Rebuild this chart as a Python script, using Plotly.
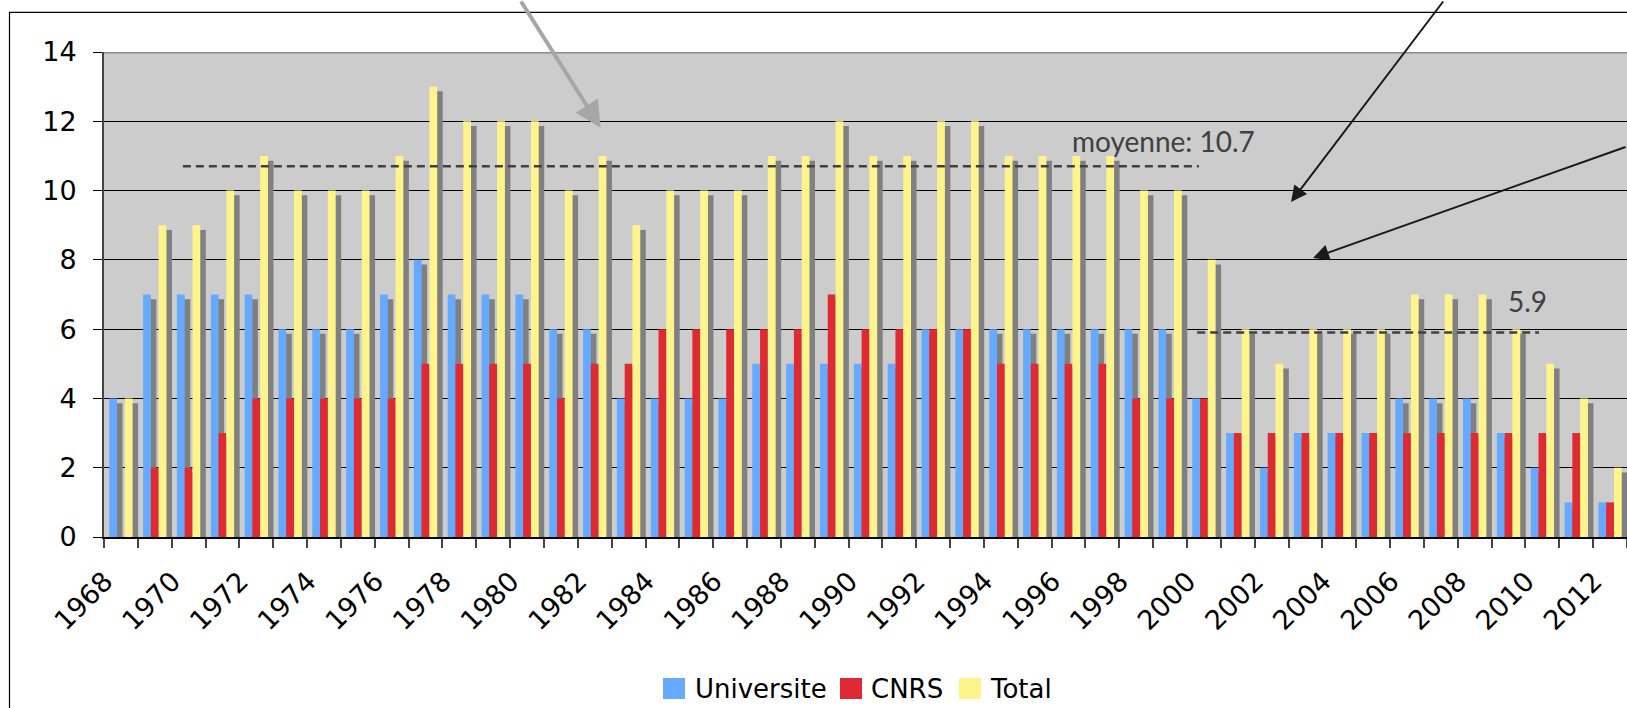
import plotly.graph_objects as go

# Recrutements par année
years = list(range(1968, 2013))
universite = [4, 7, 7, 7, 7, 6, 6, 6, 7, 8, 7, 7, 7, 6, 6, 4, 4, 4, 4, 5, 5, 5, 5, 5,
              6, 6, 6, 6, 6, 6, 6, 6, 4, 3, 2, 3, 3, 3, 4, 4, 4, 3, 2, 1, 1]
cnrs = [0, 2, 2, 3, 4, 4, 4, 4, 4, 5, 5, 5, 5, 4, 5, 5, 6, 6, 6, 6, 6, 7, 6, 6,
        6, 6, 5, 5, 5, 5, 4, 4, 4, 3, 3, 3, 3, 3, 3, 3, 3, 3, 3, 3, 1]
total = [4, 9, 9, 10, 11, 10, 10, 10, 11, 13, 12, 12, 12, 10, 11, 9, 10, 10, 10, 11, 11, 12, 11, 11,
         12, 12, 11, 11, 11, 11, 10, 10, 8, 6, 5, 6, 6, 6, 7, 7, 7, 6, 5, 4, 2]
series_names = ["Universite", "CNRS", "Total"]
colors = ["#66AAFF", "#DD2A33", "#FFF48C"]
x_labels = list(range(1968, 2013, 2))

# periods used for the two averages
period1 = (1969, 2000)
period2 = (2001, 2011)


def mean_total(a, b):
    vals = [t for y, t in zip(years, total) if a <= y <= b]
    return sum(vals) / len(vals)


mean1 = round(mean_total(*period1), 1)
mean2 = round(mean_total(*period2), 1)

# layout geometry (pixels)
W, H = 1627, 708
L, R, T, B = 104, 0, 52, 171
PW = W - L - R
PH = H - T - B


def px(x):
    return (x - L) / PW


def py(y):
    return (H - B - y) / PH


bar_w = 0.23
offsets = [-0.345, -0.115, 0.115]
shadow_dx = 0.163
shadow_dy = 0.136

fig = go.Figure()
data = [universite, cnrs, total]

# drop shadows first, then the bars themselves
for vals, off in zip(data, offsets):
    fig.add_trace(go.Bar(
        x=years, y=vals, base=[-shadow_dy] * len(vals),
        width=bar_w, offset=off + shadow_dx,
        marker=dict(color="#808080", line=dict(width=0)),
        showlegend=False, hoverinfo="skip"))
for vals, off, name, col in zip(data, offsets, series_names, colors):
    fig.add_trace(go.Bar(
        x=years, y=vals, name=name,
        width=bar_w, offset=off,
        marker=dict(color=col, line=dict(width=0)),
        showlegend=False))

shapes = []
annotations = []

# mean lines
dash = dict(color="#404040", width=2.5, dash="8px,5px")
shapes.append(dict(type="line", xref="x", yref="y", x0=1969.83, x1=1999.85,
                   y0=mean1, y1=mean1, line=dash))
shapes.append(dict(type="line", xref="x", yref="y", x0=1999.8, x1=2009.9,
                   y0=mean2, y1=mean2, line=dash))
annotations.append(dict(xref="paper", yref="paper", x=px(1070), y=py(141),
                        xanchor="left", yanchor="middle", showarrow=False,
                        text=f"moyenne: {mean1}",
                        font=dict(family="Lato", size=28, color="#404040")))
annotations.append(dict(xref="paper", yref="paper", x=px(1527), y=py(301),
                        xanchor="center", yanchor="middle", showarrow=False,
                        text=f"{mean2}",
                        font=dict(family="Lato", size=28, color="#404040")))

# top edge of the plot area
shapes.append(dict(type="line", xref="paper", yref="y", x0=0, x1=1, y0=14, y1=14,
                   line=dict(color="#8C8C8C", width=3)))

# outer frame of the chart
shapes.append(dict(type="rect", xref="paper", yref="paper",
                   x0=px(9.5), x1=px(1700), y0=py(760), y1=py(12.3),
                   line=dict(color="black", width=1.2), layer="below"))

# pointer arrows
annotations.append(dict(xref="paper", yref="paper", x=px(600.7), y=py(127.7),
                        ax=-80.6, ay=-147.7, axref="pixel", ayref="pixel", text="",
                        showarrow=True, arrowhead=2, arrowsize=1.3, arrowwidth=4,
                        arrowcolor="#A6A6A6"))
annotations.append(dict(xref="paper", yref="paper", x=px(1291), y=py(202),
                        ax=153.3, ay=-222, axref="pixel", ayref="pixel", text="",
                        showarrow=True, arrowhead=2, arrowsize=1.6, arrowwidth=2,
                        arrowcolor="#1A1A1A"))
annotations.append(dict(xref="paper", yref="paper", x=px(1313), y=py(258),
                        ax=337, ay=-111.6, axref="pixel", ayref="pixel", text="",
                        showarrow=True, arrowhead=2, arrowsize=1.6, arrowwidth=2,
                        arrowcolor="#1A1A1A"))

# legend drawn as swatches + labels
legend_items = [(663, 685, 693), (840, 862, 869), (959, 981, 988)]
for (s0, s1, tx), name, col in zip(legend_items, series_names, colors):
    shapes.append(dict(type="rect", xref="paper", yref="paper",
                       x0=px(s0), x1=px(s1), y0=py(699), y1=py(678),
                       fillcolor=col, line=dict(width=0)))
    annotations.append(dict(xref="paper", yref="paper", x=px(tx), y=py(689),
                            xanchor="left", yanchor="middle", showarrow=False,
                            text=name,
                            font=dict(family="DejaVu Sans", size=26, color="black")))

fig.update_layout(
    width=W, height=H,
    margin=dict(l=L, r=R, t=T, b=B),
    paper_bgcolor="white", plot_bgcolor="#CCCCCC",
    barmode="overlay", showlegend=False,
    shapes=shapes, annotations=annotations,
    font=dict(family="DejaVu Sans", size=27, color="black"),
    xaxis=dict(range=[1967.5, 2012.5], tickmode="array", tickvals=x_labels,
               ticktext=[str(v) for v in x_labels], tickangle=-45, ticks="",
               showgrid=False, zeroline=False, showline=True, linecolor="black",
               linewidth=1.5, ticklabelshift=-16, ticklabelstandoff=16,
               minor=dict(tickmode="linear", tick0=1967.5, dtick=1, ticks="outside",
                          ticklen=9, tickcolor="#444", tickwidth=1.5, showgrid=False)),
    yaxis=dict(range=[0, 14], tickmode="linear", tick0=0, dtick=2,
               showgrid=True, gridcolor="black", gridwidth=1, zeroline=False,
               showline=True, linecolor="#444", linewidth=2,
               ticks="outside", ticklen=9, tickcolor="black", ticklabelstandoff=11),
)

fig.write_html("out.html")
